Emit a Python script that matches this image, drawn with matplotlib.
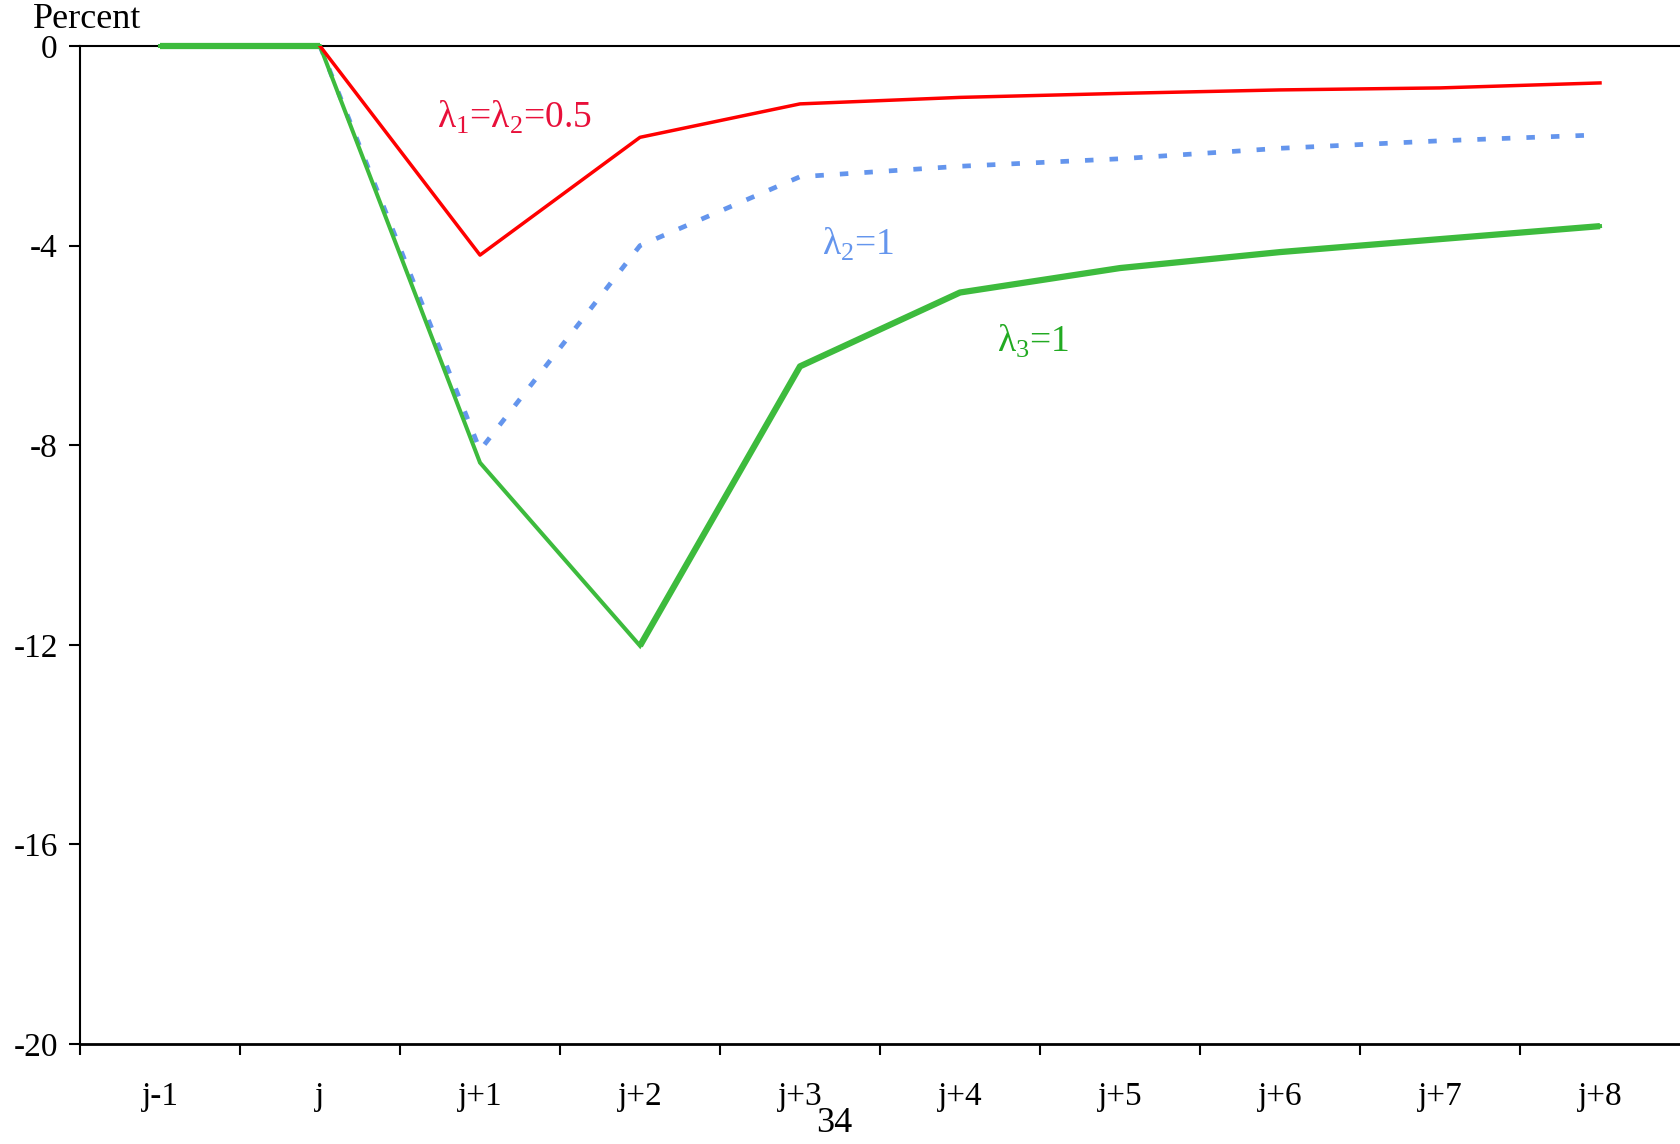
import numpy as np
import matplotlib
matplotlib.use('Agg')
import matplotlib.pyplot as plt

plt.rcParams['font.family'] = 'Liberation Serif'
plt.rcParams['mathtext.fontset'] = 'custom'
plt.rcParams['mathtext.rm'] = 'Liberation Serif'

# periods and responses (percent)
periods = ['j-1', 'j', 'j+1', 'j+2', 'j+3', 'j+4', 'j+5', 'j+6', 'j+7', 'j+8']
red_vals = [np.nan, 0.0, -4.19, -1.83, -1.16, -1.03, -0.95, -0.88, -0.84, -0.74]
blue_vals = [np.nan, 0.0, -8.1, -4.0, -2.62, -2.41, -2.26, -2.05, -1.9, -1.78]
green_vals = [0.0, 0.0, -8.35, -12.02, -6.42, -4.94, -4.45, -4.13, -3.87, -3.61]
yticks = [0, -4, -8, -12, -16, -20]

x = np.arange(len(periods))

fig = plt.figure(figsize=(16.8, 11.44), dpi=100)
ax = fig.add_axes([80/1680, 1 - 1044/1144, 1 - 80/1680, (1044 - 46)/1144])

green = '#3dbb3d'
ax.plot(x, green_vals, color=green, lw=2.9, solid_joinstyle='miter', zorder=3,
        clip_on=False)
# thicker strokes on the flat start and the recovery part
ax.plot(x[:2], green_vals[:2], color=green, lw=4.5, solid_capstyle='butt',
        zorder=3, clip_on=False)
ax.plot(x[3:], green_vals[3:], color=green, lw=4.5, solid_capstyle='butt',
        zorder=3)
ax.plot(x, blue_vals, color='#6495ed', lw=3.4, linestyle=(0, (1.8, 3.4)),
        dash_capstyle='butt', zorder=2)
ax.plot(x, red_vals, color='#ff0000', lw=2.5, zorder=4)

ax.text(1.73, -1.64, 'λ$_1$=λ$_2$=0.5', color='#e8103a', fontsize=27)
ax.text(4.14, -4.19, 'λ$_2$=1', color='#6495ed', fontsize=27)
ax.text(5.23, -6.13, 'λ$_3$=1', color='#22aa22', fontsize=27)

ax.set_xlim(-0.5, 9.5)
ax.set_ylim(-20, 0)
ax.set_yticks(yticks)
ax.set_yticklabels([str(v) for v in yticks], fontsize=24)
ax.set_xticks(x)
ax.set_xticklabels(periods, fontsize=24)
ax.set_xticks(np.arange(-0.5, 9.0, 1.0), minor=True)
ax.tick_params(axis='x', which='major', length=0, pad=27)
ax.tick_params(axis='x', which='minor', length=8, width=1.5, direction='out')
ax.tick_params(axis='y', length=8, width=1.5, direction='out', pad=8)

ax.spines['right'].set_visible(False)
ax.spines['left'].set_linewidth(1.5)
ax.spines['top'].set_linewidth(1.5)
ax.spines['bottom'].set_linewidth(2.0)

fig.text(33/1680, 1 - 28/1144, 'Percent', fontsize=26, va='baseline', ha='left')
fig.text(834/1680, 1 - 1123/1144, '34', fontsize=26, va='center', ha='center')

fig.savefig('out.png', dpi=100)
